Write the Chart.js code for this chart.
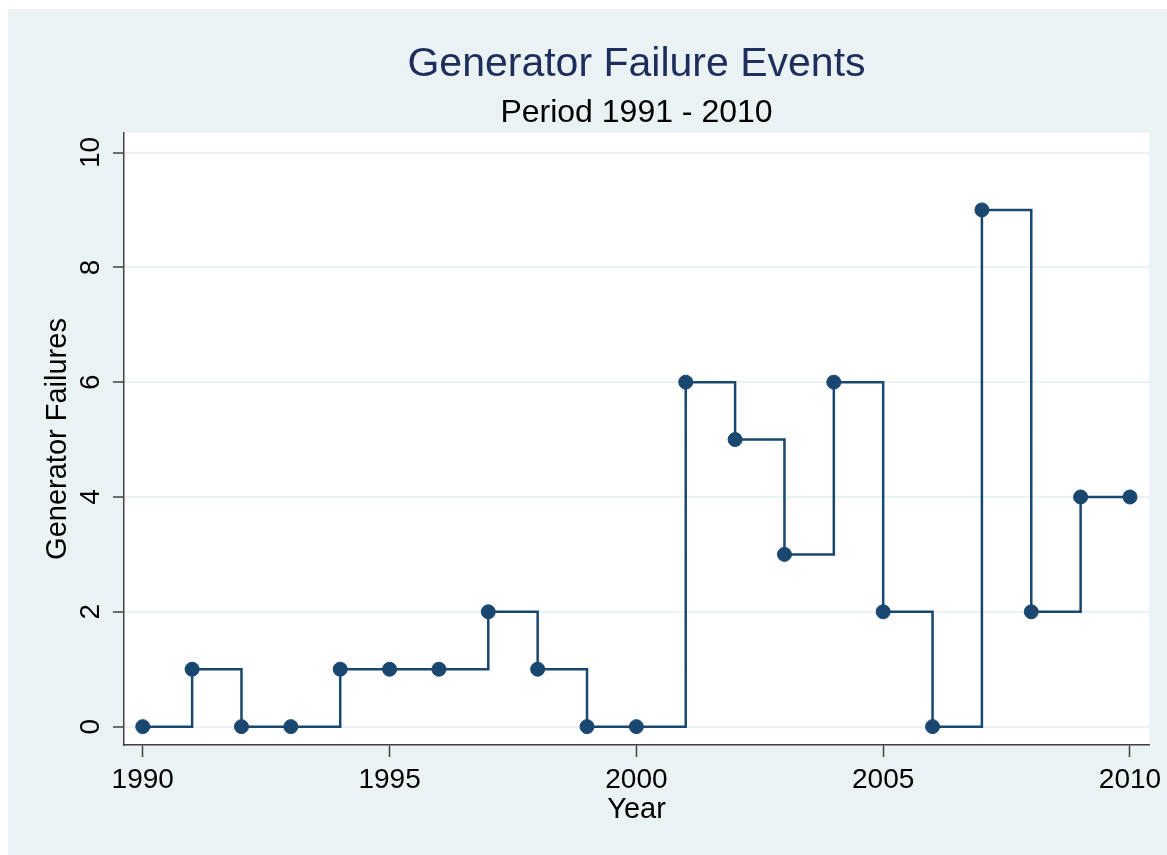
<!DOCTYPE html>
<html><head><meta charset="utf-8">
<script src="https://cdn.jsdelivr.net/npm/chart.js@4/dist/chart.umd.min.js"></script>
<style>html,body{margin:0;padding:0;background:#fff;} canvas{display:block;}</style>
</head><body>
<canvas id="c" width="1167" height="855"></canvas>
<script>
const years = [1990,1991,1992,1993,1994,1995,1996,1997,1998,1999,2000,2001,2002,2003,2004,2005,2006,2007,2008,2009,2010];
const failures = [0,1,0,0,1,1,1,2,1,0,0,6,5,3,6,2,0,9,2,4,4];
const yTicks = [0,2,4,6,8,10];
const xTicks = [1990,1995,2000,2005,2010];
const titleText = 'Generator Failure Events';
const subtitleText = 'Period 1991 - 2010';
const xTitle = 'Year';
const yTitle = 'Generator Failures';

const FONT = "'Liberation Sans', Arial, sans-serif";
const NAVY = '#1A476F';
const BG = '#EAF2F3';
const AXIS = '#404040';

const bgPlugin = {
  id: 'bg',
  beforeDraw(chart) {
    const {ctx, chartArea: a} = chart;
    ctx.save();
    ctx.fillStyle = '#ffffff';
    ctx.fillRect(0, 0, chart.width, chart.height);
    ctx.fillStyle = BG;
    ctx.fillRect(8, 9, chart.width - 8, chart.height - 9);
    ctx.fillStyle = '#ffffff';
    ctx.fillRect(a.left, a.top, a.right - a.left, a.bottom - a.top);
    ctx.restore();
  }
};

new Chart(document.getElementById('c'), {
  type: 'line',
  data: {
    datasets: [{
      data: years.map((x, i) => ({x: x, y: failures[i]})),
      stepped: 'before',
      borderColor: NAVY,
      borderWidth: 2.5,
      backgroundColor: NAVY,
      pointBackgroundColor: NAVY,
      pointBorderColor: NAVY,
      pointBorderWidth: 1,
      pointRadius: 7,
      fill: false,
      clip: false
    }]
  },
  options: {
    responsive: false,
    animation: false,
    devicePixelRatio: 1,
    layout: { padding: { left: 0, right: 18, top: 0, bottom: 0 } },
    plugins: {
      legend: { display: false },
      tooltip: { enabled: false },
      title: {
        display: true, text: titleText, fullSize: false,
        color: '#1E2E5C', font: { family: FONT, size: 41, weight: 'normal', lineHeight: 1.2 },
        padding: { top: 40, bottom: 0 }
      },
      subtitle: {
        display: true, text: subtitleText, fullSize: false,
        color: '#000000', font: { family: FONT, size: 32, weight: 'normal', lineHeight: 1.2 },
        padding: { top: 5.2, bottom: 0.2 }
      }
    },
    scales: {
      x: {
        type: 'linear', position: 'bottom',
        min: 1989.62, max: 2010.385,
        afterBuildTicks: s => { s.ticks = xTicks.map(v => ({value: v})); },
        afterFit: s => { s.height = 110; s.paddingLeft = 0; s.paddingRight = 0; },
        ticks: { color: '#000', font: { family: FONT, size: 28, lineHeight: 1.2 }, padding: 6.2,
                 maxRotation: 0, minRotation: 0, autoSkip: false, callback: v => String(v) },
        grid: { drawOnChartArea: false, drawTicks: true, tickLength: 12, tickColor: AXIS, tickWidth: 1.5 },
        border: { display: true, color: AXIS, width: 1.5 },
        title: { display: true, text: xTitle, color: '#000', font: { family: FONT, size: 29, lineHeight: 1.2 },
                 padding: { top: 0, bottom: 28.1 } }
      },
      y: {
        type: 'linear', position: 'left',
        min: -0.32, max: 10.34,
        afterBuildTicks: s => { s.ticks = yTicks.map(v => ({value: v})); },
        afterFit: s => { s.width = 124; s.paddingTop = 0; s.paddingBottom = 0; },
        ticks: { color: '#000', font: { family: FONT, size: 28, lineHeight: 1.2 }, padding: 6.4,
                 minRotation: 90, maxRotation: 90, crossAlign: 'center', autoSkip: false, callback: v => String(v) },
        grid: { drawOnChartArea: true, color: BG, lineWidth: 2, drawTicks: true, tickLength: 11, tickColor: AXIS, tickWidth: 1.5 },
        border: { display: true, color: AXIS, width: 1.5 },
        title: { display: true, text: yTitle, color: '#000', font: { family: FONT, size: 29, lineHeight: 1.2 },
                 padding: { top: 40.6, bottom: 0 } }
      }
    }
  },
  plugins: [bgPlugin]
});
</script>
</body></html>
